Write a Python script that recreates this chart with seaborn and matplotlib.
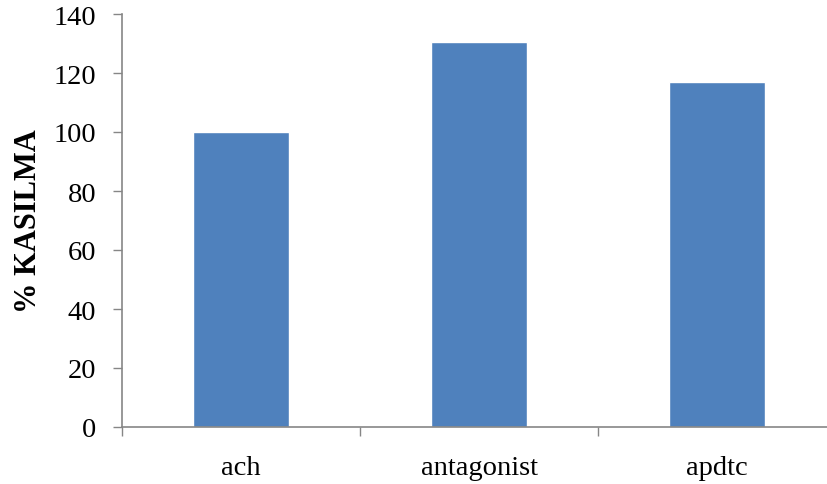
import matplotlib
matplotlib.use("Agg")
import matplotlib.pyplot as plt
import seaborn as sns
import pandas as pd

categories = ["ach", "antagonist", "apdtc"]
values = [100.0, 130.5, 117.0]
y_ticks = [0, 20, 40, 60, 80, 100, 120, 140]

sns.set_style("white")
plt.rcParams["font.family"] = ["Liberation Serif", "DejaVu Serif"]
plt.rcParams["text.color"] = "black"
plt.rcParams["axes.labelcolor"] = "black"

df = pd.DataFrame({"group": categories, "percent": values})

fig = plt.figure(figsize=(8.27, 4.85), dpi=100)
ax = fig.add_axes([122 / 827, 57 / 485, 714 / 827, 413 / 485])

sns.barplot(data=df, x="group", y="percent", color="#4F81BD", saturation=1,
            width=0.40, ax=ax)

ax.set_ylim(0, 140)
ax.set_xlim(-0.5, 2.5)
ax.set_yticks(y_ticks)
ax.set_yticklabels([str(t) for t in y_ticks])

# boundary ticks between categories, labels centred on bars
ax.set_xticks([-0.5, 0.5, 1.5, 2.5])
ax.set_xticklabels([])
ax.set_xticks([0, 1, 2], minor=True)
ax.set_xticklabels(categories, minor=True)
ax.tick_params(axis="x", which="major", direction="out", length=6.5, width=1,
               color="#868686", bottom=True)
ax.tick_params(axis="x", which="minor", length=0, pad=20, labelsize=20.5,
               labelcolor="black")
ax.tick_params(axis="y", which="major", direction="out", length=6.5, width=1,
               color="#868686", left=True, pad=12, labelsize=20.5,
               labelcolor="black")

for side in ["top", "right"]:
    ax.spines[side].set_visible(False)
for side in ["left", "bottom"]:
    ax.spines[side].set_color("#868686")
    ax.spines[side].set_linewidth(1.2)

ax.set_xlabel("")
ax.set_ylabel("% KASILMA", fontsize=22, fontweight="bold", labelpad=8)
ax.grid(False)

fig.savefig("out.png", dpi=100, facecolor="white")
